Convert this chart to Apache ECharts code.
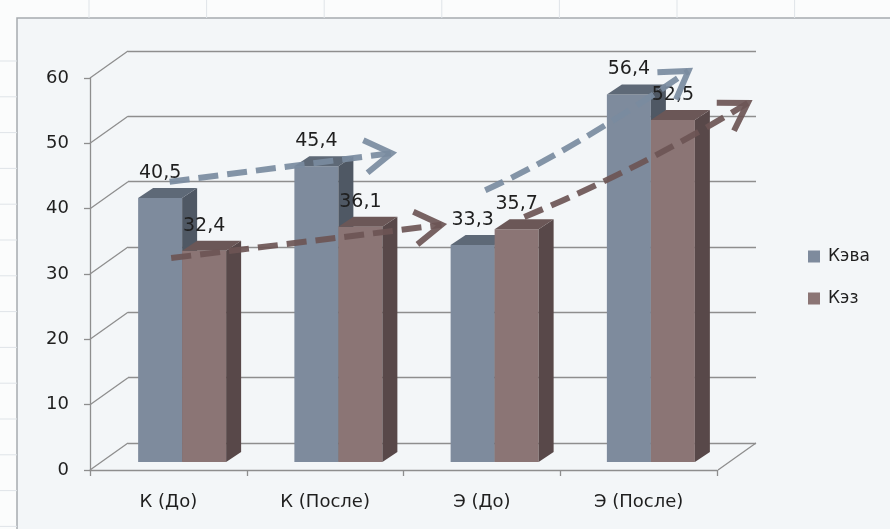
<!DOCTYPE html>
<html>
<head>
<meta charset="utf-8">
<title>Кэва / Кэз</title>
<script src="https://cdn.jsdelivr.net/npm/echarts@6/dist/echarts.min.js"></script>
<style>
  html, body { margin: 0; padding: 0; background: #fbfcfc; }
  #chart { width: 890px; height: 529px; }
</style>
</head>
<body>
<div id="chart"></div>
<script>
// ---- data ----
const categories = ['К (До)', 'К (После)', 'Э (До)', 'Э (После)'];
const seriesNames = ['Кэва', 'Кэз'];
const kevaValues = [40.5, 45.4, 33.3, 56.4];
const kezValues = [32.4, 36.1, 35.7, 52.5];
const yTicks = [0, 10, 20, 30, 40, 50, 60];

// trend arrows, in (category position, value) units: start, control, tip
const arrowKevaBefore = [[-0.08, 43.0], [0.63, 45.2], [1.34, 47.4]];
const arrowKezBefore = [[-0.07, 31.3], [0.80, 33.8], [1.66, 36.4]];
const arrowKevaAfter = [[1.94, 41.7], [2.50, 47.8], [3.24, 60.0]];
const arrowKezAfter = [[2.19, 37.6], [2.95, 45.2], [3.62, 55.1]];

// ---- styling ----
const FONT = 'DejaVu Sans';
const TEXT = '#1f1f1f';
const GRID_LINE = '#8e8e8e';
const CHART_BG = '#f3f6f8';
const KEVA = { front: '#7e8b9d', side: '#4f5864', top: '#5e6977' };
const KEZ = { front: '#8b7575', side: '#584849', top: '#6b5757' };
const ARROW_KEVA = '#7a8ba0';
const ARROW_KEZ = '#6c5555';
const DEPTH = [15, -10];        // column depth offset
const WALL = [-38, 27];         // back wall -> front axis offset
const BAR_RATIO = 44 / 156.25;  // column width per category band

const fmt = v => v.toFixed(1).replace('.', ',');

// spreadsheet cells around the chart object
const decor = [];
for (let x = 89; x < 890; x += 117.6) {
  decor.push({ type: 'line', shape: { x1: x, y1: 0, x2: x, y2: 18 }, style: { stroke: '#dfe4e8', lineWidth: 1 }, silent: true });
}
for (let y = 61; y < 529; y += 35.8) {
  decor.push({ type: 'line', shape: { x1: 0, y1: y, x2: 17, y2: y }, style: { stroke: '#dfe4e8', lineWidth: 1 }, silent: true });
}
decor.push({ type: 'rect', shape: { x: 17, y: 18, width: 900, height: 540 }, style: { fill: CHART_BG, stroke: '#a7abae', lineWidth: 1.5 }, z: -10, silent: true });

function columnRenderer(seriesIdx, colors) {
  return function (params, api) {
    const i = api.value(0);
    const v = api.value(1);
    const band = api.size([1, 0])[0];
    const w = band * BAR_RATIO;
    const top = api.coord([i, v]);
    const base = api.coord([i, 0]);
    const x0 = top[0] + (seriesIdx === 0 ? -w : 0);
    const x1 = x0 + w;
    const yt = top[1], yb = base[1];
    const dx = DEPTH[0], dy = DEPTH[1];
    return {
      type: 'group',
      children: [
        { type: 'polygon', shape: { points: [[x0, yt], [x1, yt], [x1, yb], [x0, yb]] }, style: { fill: colors.front } },
        { type: 'polygon', shape: { points: [[x1, yt], [x1 + dx, yt + dy], [x1 + dx, yb + dy], [x1, yb]] }, style: { fill: colors.side } },
        { type: 'polygon', shape: { points: [[x0, yt], [x0 + dx, yt + dy], [x1 + dx, yt + dy], [x1, yt]] }, style: { fill: colors.top } },
        { type: 'text', z2: 10, style: { text: fmt(v), x: (x0 + x1) / 2, y: yt - 25, align: 'center', verticalAlign: 'middle', font: '19px "' + FONT + '"', fill: TEXT } }
      ]
    };
  };
}

const arrows = [
  { pts: arrowKevaBefore, color: ARROW_KEVA },
  { pts: arrowKezBefore, color: ARROW_KEZ },
  { pts: arrowKevaAfter, color: ARROW_KEVA },
  { pts: arrowKezAfter, color: ARROW_KEZ }
];

function arrowRenderer(params, api) {
  const a = arrows[params.dataIndex];
  const p0 = api.coord(a.pts[0]);
  const c = api.coord(a.pts[1]);
  const p1 = api.coord(a.pts[2]);
  const back = Math.atan2(c[1] - p1[1], c[0] - p1[0]);
  const len = 31, spread = 32 * Math.PI / 180;
  const arm = s => [p1[0] + len * Math.cos(back + s), p1[1] + len * Math.sin(back + s)];
  return {
    type: 'group',
    children: [
      { type: 'bezierCurve', shape: { x1: p0[0], y1: p0[1], x2: p1[0], y2: p1[1], cpx1: c[0], cpy1: c[1] },
        style: { stroke: a.color, lineWidth: 6, lineDash: [20, 9], fill: null, opacity: 0.92 } },
      { type: 'polyline', shape: { points: [arm(spread), p1, arm(-spread)] },
        style: { stroke: a.color, lineWidth: 6, fill: null, lineJoin: 'miter', opacity: 0.92 } }
    ]
  };
}

function wallRenderer(params, api) {
  const v = api.value(0);
  const p = api.coord([0, v]);
  const children = [{ type: 'line', shape: { x1: p[0], y1: p[1], x2: p[0] + WALL[0], y2: p[1] + WALL[1] }, style: { stroke: GRID_LINE, lineWidth: 1.3 } }];
  if (v === 0) {
    const q = api.coord([1, 0]);
    children.push({ type: 'line', shape: { x1: q[0], y1: q[1], x2: q[0] + WALL[0], y2: q[1] + WALL[1] }, style: { stroke: GRID_LINE, lineWidth: 1.3 } });
  }
  return { type: 'group', children };
}

const chart = echarts.init(document.getElementById('chart'), null, { renderer: 'canvas' });
chart.setOption({
  animation: false,
  backgroundColor: 'transparent',
  graphic: decor,
  textStyle: { fontFamily: FONT },
  legend: {
    data: seriesNames,
    orient: 'vertical',
    left: 803,
    top: 243,
    icon: 'rect',
    itemWidth: 12,
    itemHeight: 12,
    itemGap: 25,
    textStyle: { fontFamily: FONT, fontSize: 17, color: TEXT, padding: [0, 0, 0, 3] }
  },
  grid: [
    // back wall
    { left: 128, right: 134, top: 51, bottom: 86 },
    // front axes
    { left: 90, right: 173, top: 78, bottom: 59 },
    // columns (mid depth)
    { left: 104, right: 161, top: 71, bottom: 67 }
  ],
  xAxis: [
    { gridIndex: 0, type: 'value', min: 0, max: 1, show: false },
    {
      gridIndex: 1, type: 'category', data: categories, boundaryGap: true,
      axisLine: { lineStyle: { color: GRID_LINE, width: 1.3 } },
      axisTick: { show: true, length: 6, alignWithLabel: false, lineStyle: { color: GRID_LINE, width: 1.3 } },
      axisLabel: { fontFamily: FONT, fontSize: 18, color: TEXT, margin: 23 },
      splitLine: { show: false }
    },
    { gridIndex: 2, type: 'value', min: -0.5, max: 3.5, show: false }
  ],
  yAxis: [
    {
      gridIndex: 0, type: 'value', min: 0, max: 60, interval: 10,
      axisLine: { show: false }, axisTick: { show: false }, axisLabel: { show: false },
      splitLine: { show: true, lineStyle: { color: GRID_LINE, width: 1.3 } }
    },
    {
      gridIndex: 1, type: 'value', min: 0, max: 60, interval: 10,
      axisLine: { show: true, lineStyle: { color: GRID_LINE, width: 1.3 } },
      axisTick: { show: true, length: 6, lineStyle: { color: GRID_LINE, width: 1.3 } },
      axisLabel: { fontFamily: FONT, fontSize: 18, color: TEXT, margin: 21 },
      splitLine: { show: false }
    },
    { gridIndex: 2, type: 'value', min: 0, max: 60, show: false }
  ],
  series: [
    {
      type: 'custom', name: 'wall', xAxisIndex: 0, yAxisIndex: 0, z: 1,
      data: yTicks.map(v => [v]), renderItem: wallRenderer, silent: true,
      encode: { y: 0 }
    },
    {
      type: 'custom', name: seriesNames[0], xAxisIndex: 2, yAxisIndex: 2, z: 2,
      itemStyle: { color: KEVA.front },
      data: kevaValues.map((v, i) => [i, v]),
      renderItem: columnRenderer(0, KEVA), encode: { x: 0, y: 1 }
    },
    {
      type: 'custom', name: seriesNames[1], xAxisIndex: 2, yAxisIndex: 2, z: 3,
      itemStyle: { color: KEZ.front },
      data: kezValues.map((v, i) => [i, v]),
      renderItem: columnRenderer(1, KEZ), encode: { x: 0, y: 1 }
    },
    {
      type: 'custom', name: 'trend', xAxisIndex: 2, yAxisIndex: 2, z: 4, silent: true,
      data: arrows.map((a, i) => [i]),
      renderItem: arrowRenderer
    }
  ]
});
</script>
</body>
</html>
